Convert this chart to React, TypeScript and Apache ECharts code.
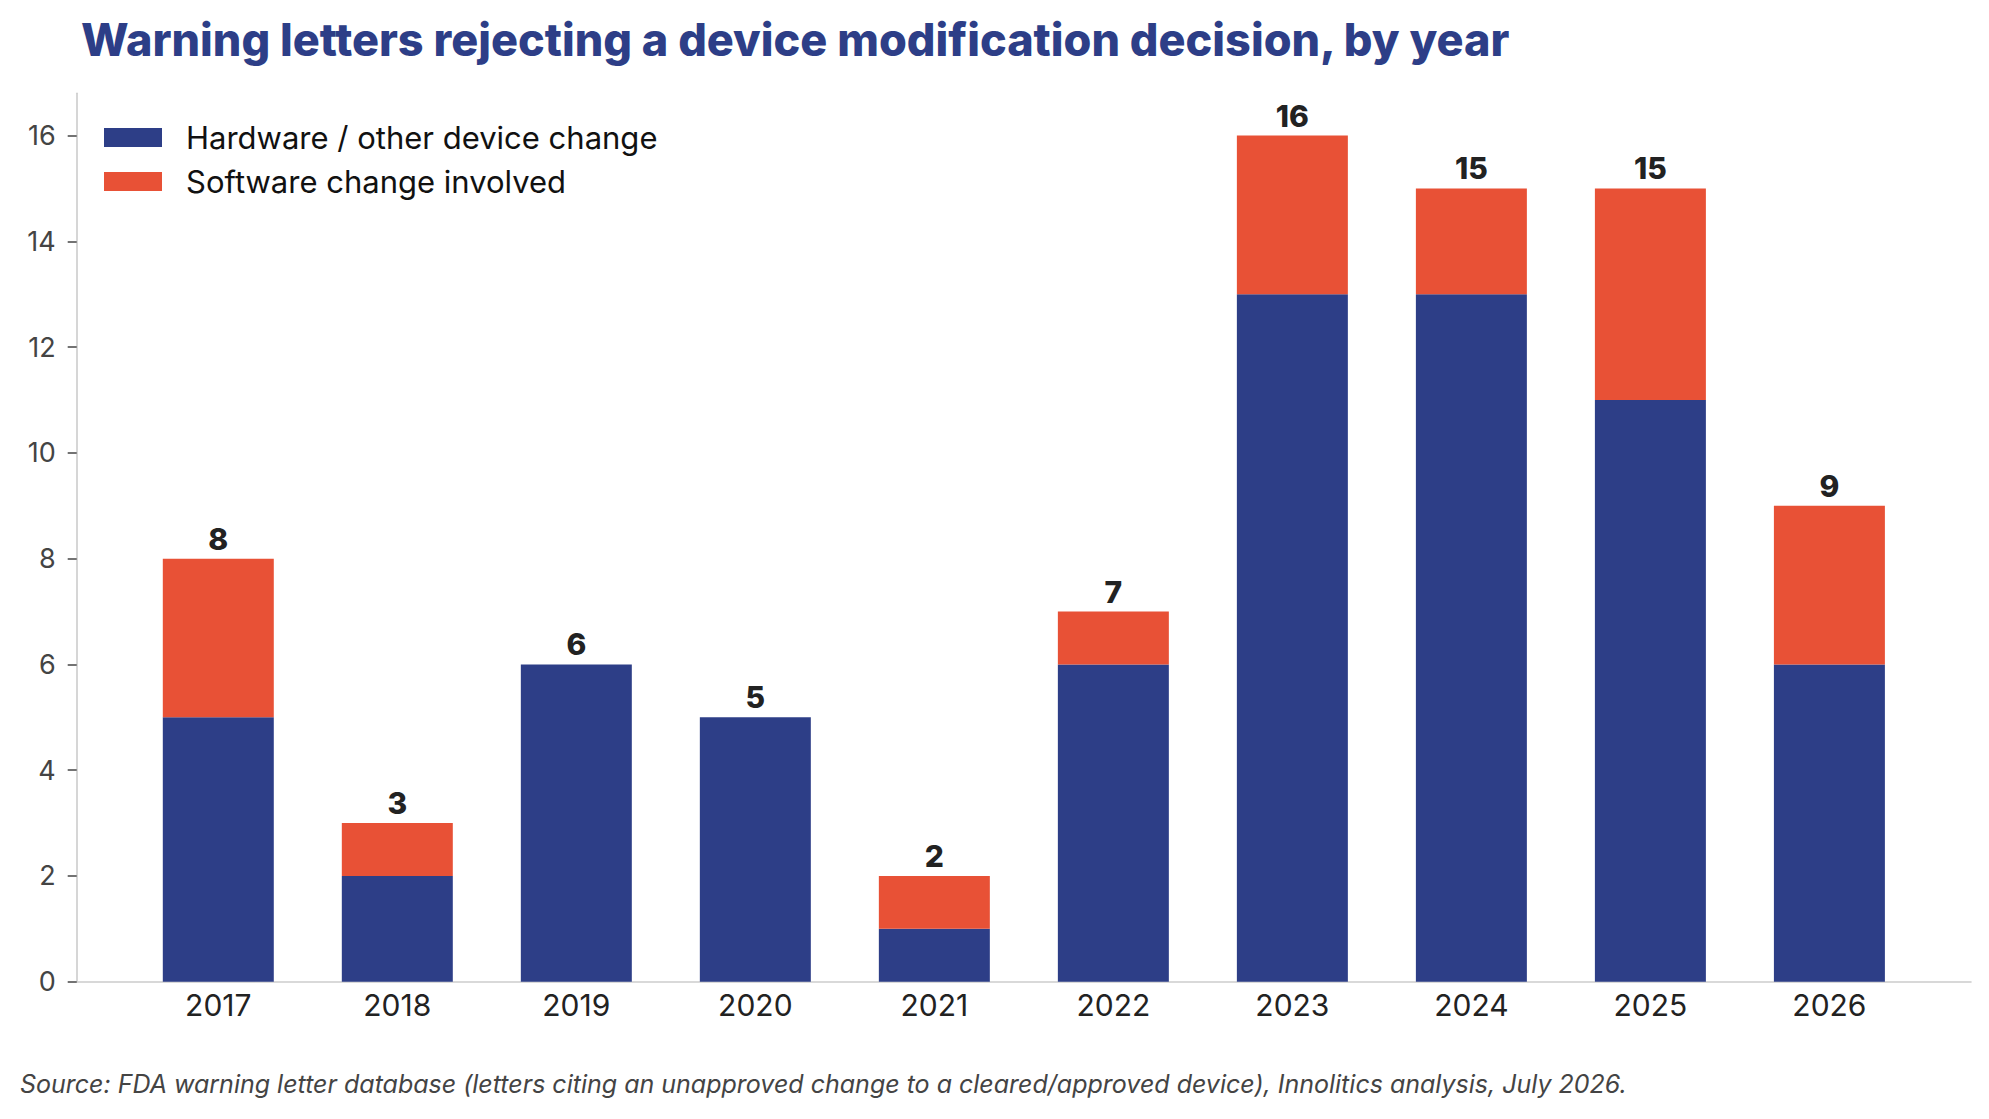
import React, { useEffect, useRef } from "react";
import * as echarts from "echarts";

const years = ["2017", "2018", "2019", "2020", "2021", "2022", "2023", "2024", "2025", "2026"];
const hardware = [5, 2, 6, 5, 1, 6, 13, 13, 11, 6];
const software = [3, 1, 0, 0, 1, 1, 3, 2, 4, 3];
const yTicks = [0, 2, 4, 6, 8, 10, 12, 14, 16];
const seriesNames = ["Hardware / other device change", "Software change involved"];
const titleText = "Warning letters rejecting a device modification decision, by year";
const sourceText =
  "Source: FDA warning letter database (letters citing an unapproved change to a cleared/approved device), Innolitics analysis, July 2026.";

const NAVY = "#2d3e87";
const ORANGE = "#e85136";
const FONT = "Inter, 'Noto Sans', sans-serif";

// plot frame (axes spines) and the band region that holds the 10 categories
const AX_LEFT = 76.7;
const AX_RIGHT = 1971;
const AX_TOP = 93.3;
const AX_BOTTOM = 981.7;
const UNIT = (AX_RIGHT - AX_LEFT) / 10.582; // one category step
const BAND_LEFT = AX_LEFT + (0.791 - 0.5) * UNIT;
const BAND_RIGHT = BAND_LEFT + 10 * UNIT;

export default function App() {
  const ref = useRef<HTMLDivElement>(null);
  useEffect(() => {
    if (!ref.current) return;
    const chart = echarts.init(ref.current, null, { renderer: "svg" });
    const totals = hardware.map((h, i) => h + software[i]);
    const W = 1989;
    const H = 1119;
    chart.setOption({
      animation: false,
      backgroundColor: "#ffffff",
      textStyle: { fontFamily: FONT },
      title: [
        {
          text: titleText,
          left: 81,
          top: 17,
          padding: 0,
          textStyle: { fontFamily: FONT, fontWeight: 800, fontSize: 45, color: NAVY },
        },
        {
          text: sourceText,
          left: 20,
          top: 1071,
          padding: 0,
          textStyle: { fontFamily: FONT, fontStyle: "italic", fontWeight: 400, fontSize: 25, color: "#444444" },
        },
      ],
      legend: {
        orient: "vertical",
        left: 104,
        top: 122,
        padding: 0,
        itemWidth: 58,
        itemHeight: 19,
        itemGap: 13,
        icon: "rect",
        selectedMode: false,
        textStyle: { fontFamily: FONT, fontSize: 31, color: "#111111", lineHeight: 30, padding: [0, 0, 0, 19] },
        data: seriesNames,
      },
      grid: [
        {
          left: AX_LEFT,
          right: W - AX_RIGHT,
          top: AX_TOP,
          bottom: H - AX_BOTTOM,
          containLabel: false,
          outerBoundsMode: "none",
        },
        {
          left: BAND_LEFT,
          right: W - BAND_RIGHT,
          top: AX_TOP,
          bottom: H - AX_BOTTOM,
          containLabel: false,
          outerBoundsMode: "none",
        },
      ],
      xAxis: [
        {
          gridIndex: 0,
          type: "value",
          min: 0,
          max: 1,
          splitLine: { show: false },
          axisLine: { show: true, onZero: false, lineStyle: { color: "#cccccc", width: 1.6 } },
          axisTick: { show: false },
          axisLabel: { show: false },
        },
        {
          gridIndex: 1,
          type: "category",
          data: years,
          boundaryGap: true,
          axisLine: { show: false },
          axisTick: { show: false },
          axisLabel: {
            fontFamily: FONT,
            fontSize: 30,
            color: "#222222",
            margin: 8,
          },
        },
      ],
      yAxis: [
        {
          gridIndex: 0,
          type: "value",
          min: 0,
          max: 16.8,
          splitLine: { show: false },
          axisLine: { show: true, onZero: false, lineStyle: { color: "#cccccc", width: 1.6 } },
          axisTick: { show: true, length: 9, customValues: yTicks, lineStyle: { color: "#444444", width: 1.5 } },
          axisLabel: {
            customValues: yTicks,
            fontFamily: FONT,
            fontSize: 27,
            color: "#444444",
            margin: 21,
          },
        },
        {
          gridIndex: 1,
          type: "value",
          min: 0,
          max: 16.8,
          show: false,
          splitLine: { show: false },
        },
      ],
      series: [
        {
          name: seriesNames[0],
          type: "bar",
          stack: "total",
          xAxisIndex: 1,
          yAxisIndex: 1,
          barWidth: "62%",
          itemStyle: { color: NAVY },
          data: hardware,
        },
        {
          name: seriesNames[1],
          type: "bar",
          stack: "total",
          xAxisIndex: 1,
          yAxisIndex: 1,
          barWidth: "62%",
          itemStyle: { color: ORANGE },
          label: {
            show: true,
            position: "top",
            distance: 5,
            fontFamily: FONT,
            fontWeight: 800,
            fontSize: 30,
            color: "#222222",
            formatter: (p: any) => String(totals[p.dataIndex]),
          },
          data: software,
        },
      ],
    });
    return () => chart.dispose();
  }, []);
  return (
    <div
      ref={ref}
      style={{ position: "fixed", left: 0, top: 0, width: 1989, height: 1119, background: "#fff" }}
    />
  );
}
